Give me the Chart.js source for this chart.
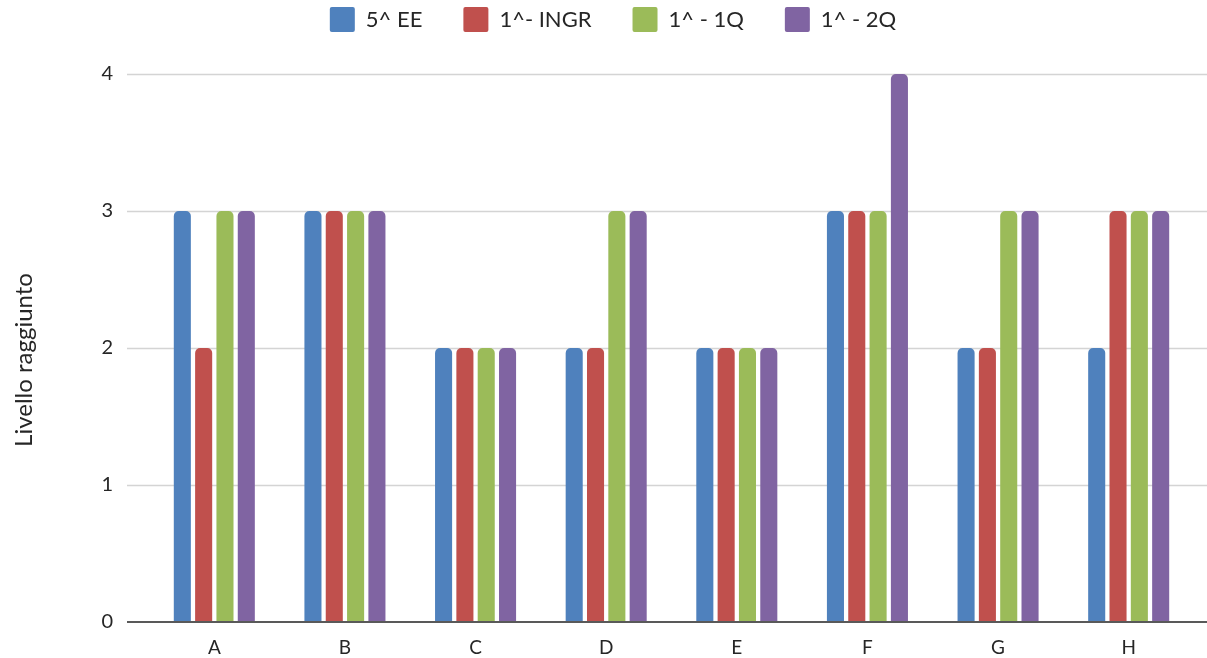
<!DOCTYPE html>
<html>
<head>
<meta charset="utf-8">
<script src="https://cdn.jsdelivr.net/npm/chart.js@4/dist/chart.umd.min.js"></script>
<style>
html,body{margin:0;padding:0;background:#fff;}
#wrap{width:1207px;height:658px;position:relative;}
</style>
</head>
<body>
<div id="wrap"><canvas id="c" width="1207" height="658"></canvas></div>
<script>
const categories = ['A','B','C','D','E','F','G','H'];
const seriesNames = ['5^ EE','1^- INGR','1^ - 1Q','1^ - 2Q'];
const ee   = [3,3,2,2,2,3,2,2];
const ingr = [2,3,2,2,2,3,2,3];
const q1   = [3,3,2,3,2,3,3,3];
const q2   = [3,3,2,3,2,4,3,3];
const yTicks = [0,1,2,3,4];
const colors = ['#4F81BD','#C0504D','#9BBB59','#8064A2'];
const FONT = 'Lato';

const seriesValues = [ee, ingr, q1, q2];

const gridPlugin = {
  id: 'extGrid',
  beforeInit(chart){
    const lg = chart.legend;
    if (lg) {
      const origFit = lg.fit.bind(lg);
      lg.fit = function(){ origFit(); this.height = 74; };
      const origDraw = lg.draw.bind(lg);
      lg.draw = function(){
        const ctx = chart.ctx;
        ctx.save(); ctx.translate(16, -34); origDraw(); ctx.restore();
      };
    }
  },
  beforeDraw(chart){
    const ys = chart.scales.y;
    if (ys && !ys._titleShifted) {
      const origTitle = ys.drawTitle.bind(ys);
      ys.drawTitle = function(){
        const ctx = chart.ctx;
        ctx.save(); ctx.translate(0, 12); origTitle(); ctx.restore();
      };
      ys._titleShifted = true;
    }
  },
  beforeDatasetsDraw(chart){
    const y = chart.scales.y, ctx = chart.ctx;
    ctx.save();
    ctx.strokeStyle = '#d4d4d4';
    ctx.lineWidth = 1.6;
    yTicks.forEach(v => {
      if (v === 0) return;
      const py = Math.round(y.getPixelForValue(v)) + 0.5;
      ctx.beginPath(); ctx.moveTo(127, py); ctx.lineTo(1207, py); ctx.stroke();
    });
    ctx.restore();
  },
  afterDatasetsDraw(chart){
    const y = chart.scales.y, ctx = chart.ctx;
    ctx.save();
    ctx.strokeStyle = '#595959';
    ctx.lineWidth = 2;
    const py = y.getPixelForValue(0);
    ctx.beginPath(); ctx.moveTo(127, py); ctx.lineTo(1207, py); ctx.stroke();
    ctx.restore();
  }
};

new Chart(document.getElementById('c'), {
  type: 'bar',
  data: {
    labels: categories,
    datasets: seriesNames.map((n, i) => ({
      label: n,
      data: seriesValues[i],
      backgroundColor: colors[i],
      borderWidth: 0,
      borderRadius: {topLeft: 5, topRight: 5, bottomLeft: 0, bottomRight: 0},
      borderSkipped: 'bottom',
      categoryPercentage: 0.653,
      barPercentage: 0.8
    }))
  },
  options: {
    responsive: false,
    animation: false,
    devicePixelRatio: 1,
    layout: { padding: { left: 0, right: 13, top: 0, bottom: 0 } },
    plugins: {
      legend: {
        position: 'top',
        labels: {
          font: { family: FONT, size: 22 },
          color: '#262626',
          boxWidth: 25,
          boxHeight: 25,
          padding: 41,
          useBorderRadius: true,
          borderRadius: 2
        }
      },
      tooltip: { enabled: false }
    },
    scales: {
      x: {
        grid: { display: false, drawTicks: true, tickLength: 14 },
        border: { display: false },
        ticks: { font: { family: FONT, size: 19 }, color: '#262626', padding: 0 },
        afterFit(s){ s.height = 36; }
      },
      y: {
        min: 0, max: 4,
        afterBuildTicks(s){ s.ticks = yTicks.map(v => ({value: v})); },
        grid: { display: false, drawTicks: true, tickLength: 36 },
        border: { display: false },
        ticks: { font: { family: FONT, size: 20 }, color: '#262626', padding: 0 },
        title: {
          display: true,
          text: 'Livello raggiunto',
          font: { family: FONT, size: 24 },
          color: '#262626',
          padding: { top: 10, bottom: 0 }
        },
        afterFit(s){ s.width = 149; }
      }
    }
  },
  plugins: [gridPlugin]
});
</script>
</body>
</html>
